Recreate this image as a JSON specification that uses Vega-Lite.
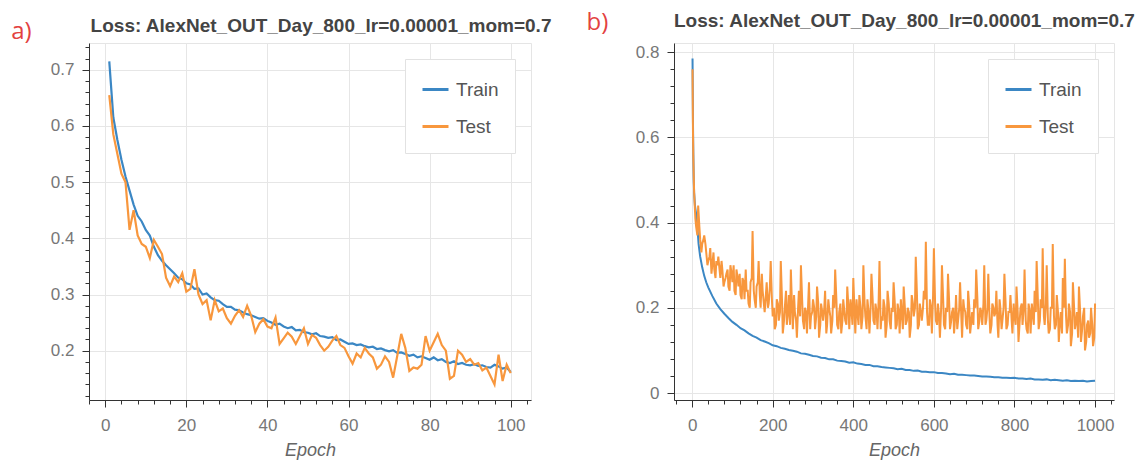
{
 "$schema": "https://vega.github.io/schema/vega-lite/v6.json",
 "padding": {"left": 10, "top": 10, "right": 5, "bottom": 5},
 "background": "white",
 "bounds": "flush",
 "spacing": 143,
 "resolve": {"scale": {"color": "independent"}, "legend": {"color": "independent"}},
 "config": {
  "font": "Liberation Sans",
  "view": {"stroke": "#e5e5e5", "strokeWidth": 1},
  "axis": {"domainColor": "#333", "tickColor": "#333", "labelColor": "#777", "labelFontSize": 17, "gridColor": "#e6e6e6", "titleColor": "#666", "labelFont": "Liberation Sans"},
  "legend": {"title": null, "orient": "top-right", "offset": 16, "fillColor": "white", "strokeColor": "#e2e2e2", "padding": 16, "symbolType": "stroke", "symbolSize": 676, "symbolStrokeWidth": 3, "labelFontSize": 19, "labelColor": "#555", "rowPadding": 12, "labelOffset": 6}
 },
 "datasets": {
  "a": [
   {"series":"Train","epoch":1,"loss":0.715},{"series":"Train","epoch":2,"loss":0.615},{"series":"Train","epoch":3,"loss":0.575},{"series":"Train","epoch":4,"loss":0.54},{"series":"Train","epoch":5,"loss":0.51},{"series":"Train","epoch":6,"loss":0.485},{"series":"Train","epoch":7,"loss":0.46},{"series":"Train","epoch":8,"loss":0.44},{"series":"Train","epoch":9,"loss":0.43},{"series":"Train","epoch":10,"loss":0.415},
   {"series":"Train","epoch":11,"loss":0.405},{"series":"Train","epoch":12,"loss":0.385},{"series":"Train","epoch":13,"loss":0.37},{"series":"Train","epoch":14,"loss":0.36},{"series":"Train","epoch":15,"loss":0.352},{"series":"Train","epoch":16,"loss":0.345},{"series":"Train","epoch":17,"loss":0.338},{"series":"Train","epoch":18,"loss":0.33},{"series":"Train","epoch":19,"loss":0.327},{"series":"Train","epoch":20,"loss":0.32},
   {"series":"Train","epoch":21,"loss":0.318},{"series":"Train","epoch":22,"loss":0.31},{"series":"Train","epoch":23,"loss":0.311},{"series":"Train","epoch":24,"loss":0.3},{"series":"Train","epoch":25,"loss":0.302},{"series":"Train","epoch":26,"loss":0.295},{"series":"Train","epoch":27,"loss":0.29},{"series":"Train","epoch":28,"loss":0.289},{"series":"Train","epoch":29,"loss":0.283},{"series":"Train","epoch":30,"loss":0.278},
   {"series":"Train","epoch":31,"loss":0.278},{"series":"Train","epoch":32,"loss":0.273},{"series":"Train","epoch":33,"loss":0.272},{"series":"Train","epoch":34,"loss":0.268},{"series":"Train","epoch":35,"loss":0.265},{"series":"Train","epoch":36,"loss":0.263},{"series":"Train","epoch":37,"loss":0.26},{"series":"Train","epoch":38,"loss":0.257},{"series":"Train","epoch":39,"loss":0.258},{"series":"Train","epoch":40,"loss":0.253},
   {"series":"Train","epoch":41,"loss":0.25},{"series":"Train","epoch":42,"loss":0.246},{"series":"Train","epoch":43,"loss":0.248},{"series":"Train","epoch":44,"loss":0.243},{"series":"Train","epoch":45,"loss":0.24},{"series":"Train","epoch":46,"loss":0.242},{"series":"Train","epoch":47,"loss":0.236},{"series":"Train","epoch":48,"loss":0.237},{"series":"Train","epoch":49,"loss":0.233},{"series":"Train","epoch":50,"loss":0.232},
   {"series":"Train","epoch":51,"loss":0.229},{"series":"Train","epoch":52,"loss":0.231},{"series":"Train","epoch":53,"loss":0.226},{"series":"Train","epoch":54,"loss":0.225},{"series":"Train","epoch":55,"loss":0.223},{"series":"Train","epoch":56,"loss":0.224},{"series":"Train","epoch":57,"loss":0.219},{"series":"Train","epoch":58,"loss":0.22},{"series":"Train","epoch":59,"loss":0.216},{"series":"Train","epoch":60,"loss":0.212},
   {"series":"Train","epoch":61,"loss":0.213},{"series":"Train","epoch":62,"loss":0.21},{"series":"Train","epoch":63,"loss":0.211},{"series":"Train","epoch":64,"loss":0.208},{"series":"Train","epoch":65,"loss":0.206},{"series":"Train","epoch":66,"loss":0.207},{"series":"Train","epoch":67,"loss":0.203},{"series":"Train","epoch":68,"loss":0.204},{"series":"Train","epoch":69,"loss":0.201},{"series":"Train","epoch":70,"loss":0.199},
   {"series":"Train","epoch":71,"loss":0.201},{"series":"Train","epoch":72,"loss":0.196},{"series":"Train","epoch":73,"loss":0.197},{"series":"Train","epoch":74,"loss":0.194},{"series":"Train","epoch":75,"loss":0.191},{"series":"Train","epoch":76,"loss":0.193},{"series":"Train","epoch":77,"loss":0.188},{"series":"Train","epoch":78,"loss":0.19},{"series":"Train","epoch":79,"loss":0.187},{"series":"Train","epoch":80,"loss":0.184},
   {"series":"Train","epoch":81,"loss":0.188},{"series":"Train","epoch":82,"loss":0.183},{"series":"Train","epoch":83,"loss":0.185},{"series":"Train","epoch":84,"loss":0.18},{"series":"Train","epoch":85,"loss":0.178},{"series":"Train","epoch":86,"loss":0.181},{"series":"Train","epoch":87,"loss":0.176},{"series":"Train","epoch":88,"loss":0.178},{"series":"Train","epoch":89,"loss":0.175},{"series":"Train","epoch":90,"loss":0.174},
   {"series":"Train","epoch":91,"loss":0.176},{"series":"Train","epoch":92,"loss":0.173},{"series":"Train","epoch":93,"loss":0.174},{"series":"Train","epoch":94,"loss":0.171},{"series":"Train","epoch":95,"loss":0.17},{"series":"Train","epoch":96,"loss":0.175},{"series":"Train","epoch":97,"loss":0.172},{"series":"Train","epoch":98,"loss":0.168},{"series":"Train","epoch":99,"loss":0.17},{"series":"Train","epoch":100,"loss":0.162},
   {"series":"Test","epoch":1,"loss":0.655},{"series":"Test","epoch":2,"loss":0.585},{"series":"Test","epoch":3,"loss":0.55},{"series":"Test","epoch":4,"loss":0.515},{"series":"Test","epoch":5,"loss":0.5},{"series":"Test","epoch":6,"loss":0.415},{"series":"Test","epoch":7,"loss":0.45},{"series":"Test","epoch":8,"loss":0.405},{"series":"Test","epoch":9,"loss":0.39},{"series":"Test","epoch":10,"loss":0.385},
   {"series":"Test","epoch":11,"loss":0.365},{"series":"Test","epoch":12,"loss":0.397},{"series":"Test","epoch":13,"loss":0.385},{"series":"Test","epoch":14,"loss":0.372},{"series":"Test","epoch":15,"loss":0.33},{"series":"Test","epoch":16,"loss":0.315},{"series":"Test","epoch":17,"loss":0.332},{"series":"Test","epoch":18,"loss":0.322},{"series":"Test","epoch":19,"loss":0.338},{"series":"Test","epoch":20,"loss":0.305},
   {"series":"Test","epoch":21,"loss":0.31},{"series":"Test","epoch":22,"loss":0.345},{"series":"Test","epoch":23,"loss":0.3},{"series":"Test","epoch":24,"loss":0.283},{"series":"Test","epoch":25,"loss":0.29},{"series":"Test","epoch":26,"loss":0.254},{"series":"Test","epoch":27,"loss":0.29},{"series":"Test","epoch":28,"loss":0.27},{"series":"Test","epoch":29,"loss":0.275},{"series":"Test","epoch":30,"loss":0.258},
   {"series":"Test","epoch":31,"loss":0.248},{"series":"Test","epoch":32,"loss":0.262},{"series":"Test","epoch":33,"loss":0.272},{"series":"Test","epoch":34,"loss":0.26},{"series":"Test","epoch":35,"loss":0.28},{"series":"Test","epoch":36,"loss":0.262},{"series":"Test","epoch":37,"loss":0.233},{"series":"Test","epoch":38,"loss":0.248},{"series":"Test","epoch":39,"loss":0.256},{"series":"Test","epoch":40,"loss":0.243},
   {"series":"Test","epoch":41,"loss":0.24},{"series":"Test","epoch":42,"loss":0.259},{"series":"Test","epoch":43,"loss":0.212},{"series":"Test","epoch":44,"loss":0.222},{"series":"Test","epoch":45,"loss":0.232},{"series":"Test","epoch":46,"loss":0.225},{"series":"Test","epoch":47,"loss":0.212},{"series":"Test","epoch":48,"loss":0.226},{"series":"Test","epoch":49,"loss":0.24},{"series":"Test","epoch":50,"loss":0.212},
   {"series":"Test","epoch":51,"loss":0.228},{"series":"Test","epoch":52,"loss":0.223},{"series":"Test","epoch":53,"loss":0.21},{"series":"Test","epoch":54,"loss":0.2},{"series":"Test","epoch":55,"loss":0.207},{"series":"Test","epoch":56,"loss":0.218},{"series":"Test","epoch":57,"loss":0.226},{"series":"Test","epoch":58,"loss":0.21},{"series":"Test","epoch":59,"loss":0.205},{"series":"Test","epoch":60,"loss":0.19},
   {"series":"Test","epoch":61,"loss":0.177},{"series":"Test","epoch":62,"loss":0.195},{"series":"Test","epoch":63,"loss":0.188},{"series":"Test","epoch":64,"loss":0.205},{"series":"Test","epoch":65,"loss":0.195},{"series":"Test","epoch":66,"loss":0.188},{"series":"Test","epoch":67,"loss":0.168},{"series":"Test","epoch":68,"loss":0.175},{"series":"Test","epoch":69,"loss":0.19},{"series":"Test","epoch":70,"loss":0.18},
   {"series":"Test","epoch":71,"loss":0.152},{"series":"Test","epoch":72,"loss":0.19},{"series":"Test","epoch":73,"loss":0.23},{"series":"Test","epoch":74,"loss":0.205},{"series":"Test","epoch":75,"loss":0.164},{"series":"Test","epoch":76,"loss":0.17},{"series":"Test","epoch":77,"loss":0.168},{"series":"Test","epoch":78,"loss":0.175},{"series":"Test","epoch":79,"loss":0.226},{"series":"Test","epoch":80,"loss":0.2},
   {"series":"Test","epoch":81,"loss":0.215},{"series":"Test","epoch":82,"loss":0.23},{"series":"Test","epoch":83,"loss":0.21},{"series":"Test","epoch":84,"loss":0.2},{"series":"Test","epoch":85,"loss":0.15},{"series":"Test","epoch":86,"loss":0.155},{"series":"Test","epoch":87,"loss":0.2},{"series":"Test","epoch":88,"loss":0.193},{"series":"Test","epoch":89,"loss":0.18},{"series":"Test","epoch":90,"loss":0.185},
   {"series":"Test","epoch":91,"loss":0.175},{"series":"Test","epoch":92,"loss":0.178},{"series":"Test","epoch":93,"loss":0.165},{"series":"Test","epoch":94,"loss":0.17},{"series":"Test","epoch":95,"loss":0.155},{"series":"Test","epoch":96,"loss":0.14},{"series":"Test","epoch":97,"loss":0.193},{"series":"Test","epoch":98,"loss":0.146},{"series":"Test","epoch":99,"loss":0.175},{"series":"Test","epoch":100,"loss":0.16}
  ],
  "b": [
   {"series":"Train","epoch":1,"loss":0.785},{"series":"Train","epoch":2,"loss":0.64},{"series":"Train","epoch":3,"loss":0.56},{"series":"Train","epoch":4,"loss":0.5},{"series":"Train","epoch":5,"loss":0.47},{"series":"Train","epoch":7,"loss":0.44},{"series":"Train","epoch":10,"loss":0.42},{"series":"Train","epoch":13,"loss":0.39},{"series":"Train","epoch":16,"loss":0.35},{"series":"Train","epoch":20,"loss":0.32},
   {"series":"Train","epoch":25,"loss":0.295},{"series":"Train","epoch":30,"loss":0.275},{"series":"Train","epoch":35,"loss":0.26},{"series":"Train","epoch":40,"loss":0.248},{"series":"Train","epoch":45,"loss":0.238},{"series":"Train","epoch":50,"loss":0.228},{"series":"Train","epoch":60,"loss":0.21},{"series":"Train","epoch":70,"loss":0.197},{"series":"Train","epoch":80,"loss":0.186},{"series":"Train","epoch":90,"loss":0.176},
   {"series":"Train","epoch":100,"loss":0.167},{"series":"Train","epoch":110,"loss":0.16},{"series":"Train","epoch":120,"loss":0.152},{"series":"Train","epoch":130,"loss":0.147},{"series":"Train","epoch":140,"loss":0.14},{"series":"Train","epoch":150,"loss":0.134},{"series":"Train","epoch":160,"loss":0.13},{"series":"Train","epoch":170,"loss":0.124},{"series":"Train","epoch":180,"loss":0.121},{"series":"Train","epoch":190,"loss":0.117},
   {"series":"Train","epoch":200,"loss":0.112},{"series":"Train","epoch":210,"loss":0.11},{"series":"Train","epoch":220,"loss":0.106},{"series":"Train","epoch":230,"loss":0.104},{"series":"Train","epoch":240,"loss":0.101},{"series":"Train","epoch":250,"loss":0.099},{"series":"Train","epoch":260,"loss":0.097},{"series":"Train","epoch":270,"loss":0.093},{"series":"Train","epoch":280,"loss":0.092},{"series":"Train","epoch":290,"loss":0.09},
   {"series":"Train","epoch":300,"loss":0.087},{"series":"Train","epoch":310,"loss":0.086},{"series":"Train","epoch":320,"loss":0.083},{"series":"Train","epoch":330,"loss":0.082},{"series":"Train","epoch":340,"loss":0.079},{"series":"Train","epoch":350,"loss":0.079},{"series":"Train","epoch":360,"loss":0.076},{"series":"Train","epoch":370,"loss":0.075},{"series":"Train","epoch":380,"loss":0.074},{"series":"Train","epoch":390,"loss":0.071},
   {"series":"Train","epoch":400,"loss":0.072},{"series":"Train","epoch":410,"loss":0.069},{"series":"Train","epoch":420,"loss":0.068},{"series":"Train","epoch":430,"loss":0.066},{"series":"Train","epoch":440,"loss":0.066},{"series":"Train","epoch":450,"loss":0.063},{"series":"Train","epoch":460,"loss":0.063},{"series":"Train","epoch":470,"loss":0.061},{"series":"Train","epoch":480,"loss":0.06},{"series":"Train","epoch":490,"loss":0.059},
   {"series":"Train","epoch":500,"loss":0.058},{"series":"Train","epoch":510,"loss":0.056},{"series":"Train","epoch":520,"loss":0.057},{"series":"Train","epoch":530,"loss":0.054},{"series":"Train","epoch":540,"loss":0.054},{"series":"Train","epoch":550,"loss":0.052},{"series":"Train","epoch":560,"loss":0.053},{"series":"Train","epoch":570,"loss":0.05},{"series":"Train","epoch":580,"loss":0.05},{"series":"Train","epoch":590,"loss":0.049},
   {"series":"Train","epoch":600,"loss":0.049},{"series":"Train","epoch":610,"loss":0.047},{"series":"Train","epoch":620,"loss":0.047},{"series":"Train","epoch":630,"loss":0.046},{"series":"Train","epoch":640,"loss":0.044},{"series":"Train","epoch":650,"loss":0.045},{"series":"Train","epoch":660,"loss":0.043},{"series":"Train","epoch":670,"loss":0.043},{"series":"Train","epoch":680,"loss":0.042},{"series":"Train","epoch":690,"loss":0.041},
   {"series":"Train","epoch":700,"loss":0.041},{"series":"Train","epoch":710,"loss":0.04},{"series":"Train","epoch":720,"loss":0.039},{"series":"Train","epoch":730,"loss":0.039},{"series":"Train","epoch":740,"loss":0.038},{"series":"Train","epoch":750,"loss":0.037},{"series":"Train","epoch":760,"loss":0.037},{"series":"Train","epoch":770,"loss":0.036},{"series":"Train","epoch":780,"loss":0.036},{"series":"Train","epoch":790,"loss":0.035},
   {"series":"Train","epoch":800,"loss":0.036},{"series":"Train","epoch":810,"loss":0.034},{"series":"Train","epoch":820,"loss":0.034},{"series":"Train","epoch":830,"loss":0.033},{"series":"Train","epoch":840,"loss":0.034},{"series":"Train","epoch":850,"loss":0.032},{"series":"Train","epoch":860,"loss":0.032},{"series":"Train","epoch":870,"loss":0.031},{"series":"Train","epoch":880,"loss":0.032},{"series":"Train","epoch":890,"loss":0.03},
   {"series":"Train","epoch":900,"loss":0.031},{"series":"Train","epoch":910,"loss":0.03},{"series":"Train","epoch":920,"loss":0.029},{"series":"Train","epoch":930,"loss":0.03},{"series":"Train","epoch":940,"loss":0.028},{"series":"Train","epoch":950,"loss":0.029},{"series":"Train","epoch":960,"loss":0.028},{"series":"Train","epoch":970,"loss":0.029},{"series":"Train","epoch":980,"loss":0.027},{"series":"Train","epoch":990,"loss":0.028},{"series":"Train","epoch":1000,"loss":0.029},
   {"series":"Test","epoch":1,"loss":0.76},{"series":"Test","epoch":2,"loss":0.62},{"series":"Test","epoch":3,"loss":0.55},{"series":"Test","epoch":5,"loss":0.47},{"series":"Test","epoch":8,"loss":0.41},{"series":"Test","epoch":10,"loss":0.39},{"series":"Test","epoch":13,"loss":0.37},{"series":"Test","epoch":15,"loss":0.44},{"series":"Test","epoch":18,"loss":0.39},{"series":"Test","epoch":20,"loss":0.36},
   {"series":"Test","epoch":23,"loss":0.33},{"series":"Test","epoch":25,"loss":0.35},{"series":"Test","epoch":28,"loss":0.36},{"series":"Test","epoch":30,"loss":0.37},{"series":"Test","epoch":33,"loss":0.35},{"series":"Test","epoch":35,"loss":0.33},{"series":"Test","epoch":38,"loss":0.3},{"series":"Test","epoch":40,"loss":0.31},{"series":"Test","epoch":43,"loss":0.32},{"series":"Test","epoch":45,"loss":0.34},
   {"series":"Test","epoch":48,"loss":0.28},{"series":"Test","epoch":50,"loss":0.3},{"series":"Test","epoch":53,"loss":0.33},{"series":"Test","epoch":55,"loss":0.29},{"series":"Test","epoch":58,"loss":0.27},{"series":"Test","epoch":60,"loss":0.31},{"series":"Test","epoch":63,"loss":0.3},{"series":"Test","epoch":65,"loss":0.32},{"series":"Test","epoch":68,"loss":0.29},{"series":"Test","epoch":70,"loss":0.27},
   {"series":"Test","epoch":73,"loss":0.31},{"series":"Test","epoch":75,"loss":0.29},{"series":"Test","epoch":78,"loss":0.25},{"series":"Test","epoch":80,"loss":0.26},{"series":"Test","epoch":83,"loss":0.27},{"series":"Test","epoch":85,"loss":0.28},{"series":"Test","epoch":88,"loss":0.29},{"series":"Test","epoch":90,"loss":0.25},{"series":"Test","epoch":93,"loss":0.24},{"series":"Test","epoch":95,"loss":0.3},
   {"series":"Test","epoch":98,"loss":0.28},{"series":"Test","epoch":100,"loss":0.26},{"series":"Test","epoch":103,"loss":0.3},{"series":"Test","epoch":105,"loss":0.24},{"series":"Test","epoch":108,"loss":0.23},{"series":"Test","epoch":110,"loss":0.29},{"series":"Test","epoch":113,"loss":0.27},{"series":"Test","epoch":115,"loss":0.25},{"series":"Test","epoch":118,"loss":0.28},{"series":"Test","epoch":120,"loss":0.23},
   {"series":"Test","epoch":123,"loss":0.22},{"series":"Test","epoch":125,"loss":0.27},{"series":"Test","epoch":128,"loss":0.26},{"series":"Test","epoch":130,"loss":0.22},{"series":"Test","epoch":133,"loss":0.29},{"series":"Test","epoch":135,"loss":0.24},{"series":"Test","epoch":138,"loss":0.24},{"series":"Test","epoch":140,"loss":0.21},{"series":"Test","epoch":143,"loss":0.2},{"series":"Test","epoch":145,"loss":0.26},
   {"series":"Test","epoch":148,"loss":0.27},{"series":"Test","epoch":150,"loss":0.38},{"series":"Test","epoch":153,"loss":0.24},{"series":"Test","epoch":155,"loss":0.22},{"series":"Test","epoch":158,"loss":0.2},{"series":"Test","epoch":160,"loss":0.25},{"series":"Test","epoch":163,"loss":0.26},{"series":"Test","epoch":165,"loss":0.31},{"series":"Test","epoch":168,"loss":0.23},{"series":"Test","epoch":170,"loss":0.2},
   {"series":"Test","epoch":173,"loss":0.28},{"series":"Test","epoch":175,"loss":0.24},{"series":"Test","epoch":178,"loss":0.21},{"series":"Test","epoch":180,"loss":0.19},{"series":"Test","epoch":183,"loss":0.23},{"series":"Test","epoch":185,"loss":0.26},{"series":"Test","epoch":188,"loss":0.2},{"series":"Test","epoch":190,"loss":0.21},{"series":"Test","epoch":193,"loss":0.25},{"series":"Test","epoch":195,"loss":0.31},
   {"series":"Test","epoch":198,"loss":0.22},{"series":"Test","epoch":200,"loss":0.18},{"series":"Test","epoch":203,"loss":0.2},{"series":"Test","epoch":205,"loss":0.15},{"series":"Test","epoch":208,"loss":0.16},{"series":"Test","epoch":210,"loss":0.22},{"series":"Test","epoch":213,"loss":0.21},{"series":"Test","epoch":215,"loss":0.17},{"series":"Test","epoch":218,"loss":0.19},{"series":"Test","epoch":220,"loss":0.31},
   {"series":"Test","epoch":223,"loss":0.22},{"series":"Test","epoch":225,"loss":0.14},{"series":"Test","epoch":228,"loss":0.17},{"series":"Test","epoch":230,"loss":0.2},{"series":"Test","epoch":233,"loss":0.24},{"series":"Test","epoch":235,"loss":0.16},{"series":"Test","epoch":238,"loss":0.19},{"series":"Test","epoch":240,"loss":0.23},{"series":"Test","epoch":243,"loss":0.16},{"series":"Test","epoch":245,"loss":0.29},
   {"series":"Test","epoch":248,"loss":0.2},{"series":"Test","epoch":250,"loss":0.15},{"series":"Test","epoch":253,"loss":0.23},{"series":"Test","epoch":255,"loss":0.19},{"series":"Test","epoch":258,"loss":0.17},{"series":"Test","epoch":260,"loss":0.13},{"series":"Test","epoch":263,"loss":0.2},{"series":"Test","epoch":265,"loss":0.24},{"series":"Test","epoch":268,"loss":0.18},{"series":"Test","epoch":270,"loss":0.3},
   {"series":"Test","epoch":273,"loss":0.22},{"series":"Test","epoch":275,"loss":0.17},{"series":"Test","epoch":278,"loss":0.15},{"series":"Test","epoch":280,"loss":0.2},{"series":"Test","epoch":283,"loss":0.19},{"series":"Test","epoch":285,"loss":0.14},{"series":"Test","epoch":288,"loss":0.21},{"series":"Test","epoch":290,"loss":0.26},{"series":"Test","epoch":293,"loss":0.15},{"series":"Test","epoch":295,"loss":0.18},
   {"series":"Test","epoch":298,"loss":0.19},{"series":"Test","epoch":300,"loss":0.22},{"series":"Test","epoch":303,"loss":0.2},{"series":"Test","epoch":305,"loss":0.15},{"series":"Test","epoch":308,"loss":0.18},{"series":"Test","epoch":310,"loss":0.25},{"series":"Test","epoch":313,"loss":0.21},{"series":"Test","epoch":315,"loss":0.13},{"series":"Test","epoch":318,"loss":0.16},{"series":"Test","epoch":320,"loss":0.21},
   {"series":"Test","epoch":323,"loss":0.19},{"series":"Test","epoch":325,"loss":0.17},{"series":"Test","epoch":328,"loss":0.2},{"series":"Test","epoch":330,"loss":0.24},{"series":"Test","epoch":333,"loss":0.14},{"series":"Test","epoch":335,"loss":0.16},{"series":"Test","epoch":338,"loss":0.22},{"series":"Test","epoch":340,"loss":0.2},{"series":"Test","epoch":343,"loss":0.18},{"series":"Test","epoch":345,"loss":0.14},
   {"series":"Test","epoch":348,"loss":0.17},{"series":"Test","epoch":350,"loss":0.23},{"series":"Test","epoch":353,"loss":0.2},{"series":"Test","epoch":355,"loss":0.29},{"series":"Test","epoch":358,"loss":0.22},{"series":"Test","epoch":360,"loss":0.16},{"series":"Test","epoch":363,"loss":0.15},{"series":"Test","epoch":365,"loss":0.19},{"series":"Test","epoch":368,"loss":0.21},{"series":"Test","epoch":370,"loss":0.14},
   {"series":"Test","epoch":373,"loss":0.17},{"series":"Test","epoch":375,"loss":0.22},{"series":"Test","epoch":378,"loss":0.19},{"series":"Test","epoch":380,"loss":0.17},{"series":"Test","epoch":383,"loss":0.16},{"series":"Test","epoch":385,"loss":0.25},{"series":"Test","epoch":388,"loss":0.2},{"series":"Test","epoch":390,"loss":0.15},{"series":"Test","epoch":393,"loss":0.22},{"series":"Test","epoch":395,"loss":0.2},
   {"series":"Test","epoch":398,"loss":0.16},{"series":"Test","epoch":400,"loss":0.27},{"series":"Test","epoch":403,"loss":0.19},{"series":"Test","epoch":405,"loss":0.14},{"series":"Test","epoch":408,"loss":0.22},{"series":"Test","epoch":410,"loss":0.19},{"series":"Test","epoch":413,"loss":0.16},{"series":"Test","epoch":415,"loss":0.23},{"series":"Test","epoch":418,"loss":0.2},{"series":"Test","epoch":420,"loss":0.15},
   {"series":"Test","epoch":423,"loss":0.18},{"series":"Test","epoch":425,"loss":0.3},{"series":"Test","epoch":428,"loss":0.21},{"series":"Test","epoch":430,"loss":0.18},{"series":"Test","epoch":433,"loss":0.15},{"series":"Test","epoch":435,"loss":0.22},{"series":"Test","epoch":438,"loss":0.19},{"series":"Test","epoch":440,"loss":0.14},{"series":"Test","epoch":443,"loss":0.2},{"series":"Test","epoch":445,"loss":0.28},
   {"series":"Test","epoch":448,"loss":0.22},{"series":"Test","epoch":450,"loss":0.17},{"series":"Test","epoch":453,"loss":0.16},{"series":"Test","epoch":455,"loss":0.21},{"series":"Test","epoch":458,"loss":0.19},{"series":"Test","epoch":460,"loss":0.15},{"series":"Test","epoch":463,"loss":0.22},{"series":"Test","epoch":465,"loss":0.31},{"series":"Test","epoch":468,"loss":0.15},{"series":"Test","epoch":470,"loss":0.18},
   {"series":"Test","epoch":473,"loss":0.17},{"series":"Test","epoch":475,"loss":0.22},{"series":"Test","epoch":478,"loss":0.2},{"series":"Test","epoch":480,"loss":0.13},{"series":"Test","epoch":483,"loss":0.16},{"series":"Test","epoch":485,"loss":0.24},{"series":"Test","epoch":488,"loss":0.21},{"series":"Test","epoch":490,"loss":0.17},{"series":"Test","epoch":493,"loss":0.15},{"series":"Test","epoch":495,"loss":0.2},
   {"series":"Test","epoch":498,"loss":0.19},{"series":"Test","epoch":500,"loss":0.26},{"series":"Test","epoch":503,"loss":0.21},{"series":"Test","epoch":505,"loss":0.15},{"series":"Test","epoch":508,"loss":0.16},{"series":"Test","epoch":510,"loss":0.21},{"series":"Test","epoch":513,"loss":0.19},{"series":"Test","epoch":515,"loss":0.14},{"series":"Test","epoch":518,"loss":0.22},{"series":"Test","epoch":520,"loss":0.19},
   {"series":"Test","epoch":523,"loss":0.15},{"series":"Test","epoch":525,"loss":0.25},{"series":"Test","epoch":528,"loss":0.2},{"series":"Test","epoch":530,"loss":0.16},{"series":"Test","epoch":533,"loss":0.17},{"series":"Test","epoch":535,"loss":0.2},{"series":"Test","epoch":538,"loss":0.19},{"series":"Test","epoch":540,"loss":0.13},{"series":"Test","epoch":543,"loss":0.16},{"series":"Test","epoch":545,"loss":0.23},
   {"series":"Test","epoch":548,"loss":0.21},{"series":"Test","epoch":550,"loss":0.18},{"series":"Test","epoch":553,"loss":0.2},{"series":"Test","epoch":555,"loss":0.32},{"series":"Test","epoch":558,"loss":0.23},{"series":"Test","epoch":560,"loss":0.15},{"series":"Test","epoch":563,"loss":0.16},{"series":"Test","epoch":565,"loss":0.21},{"series":"Test","epoch":568,"loss":0.19},{"series":"Test","epoch":570,"loss":0.17},
   {"series":"Test","epoch":573,"loss":0.2},{"series":"Test","epoch":575,"loss":0.24},{"series":"Test","epoch":578,"loss":0.22},{"series":"Test","epoch":580,"loss":0.355},{"series":"Test","epoch":583,"loss":0.19},{"series":"Test","epoch":585,"loss":0.16},{"series":"Test","epoch":588,"loss":0.16},{"series":"Test","epoch":590,"loss":0.22},{"series":"Test","epoch":593,"loss":0.2},{"series":"Test","epoch":595,"loss":0.14},
   {"series":"Test","epoch":598,"loss":0.23},{"series":"Test","epoch":600,"loss":0.34},{"series":"Test","epoch":603,"loss":0.21},{"series":"Test","epoch":605,"loss":0.17},{"series":"Test","epoch":608,"loss":0.16},{"series":"Test","epoch":610,"loss":0.21},{"series":"Test","epoch":613,"loss":0.18},{"series":"Test","epoch":615,"loss":0.13},{"series":"Test","epoch":618,"loss":0.2},{"series":"Test","epoch":620,"loss":0.3},
   {"series":"Test","epoch":623,"loss":0.22},{"series":"Test","epoch":625,"loss":0.16},{"series":"Test","epoch":628,"loss":0.15},{"series":"Test","epoch":630,"loss":0.2},{"series":"Test","epoch":633,"loss":0.19},{"series":"Test","epoch":635,"loss":0.28},{"series":"Test","epoch":638,"loss":0.21},{"series":"Test","epoch":640,"loss":0.15},{"series":"Test","epoch":643,"loss":0.17},{"series":"Test","epoch":645,"loss":0.19},
   {"series":"Test","epoch":648,"loss":0.2},{"series":"Test","epoch":650,"loss":0.14},{"series":"Test","epoch":653,"loss":0.18},{"series":"Test","epoch":655,"loss":0.23},{"series":"Test","epoch":658,"loss":0.15},{"series":"Test","epoch":660,"loss":0.17},{"series":"Test","epoch":663,"loss":0.2},{"series":"Test","epoch":665,"loss":0.26},{"series":"Test","epoch":668,"loss":0.18},{"series":"Test","epoch":670,"loss":0.13},
   {"series":"Test","epoch":673,"loss":0.22},{"series":"Test","epoch":675,"loss":0.2},{"series":"Test","epoch":678,"loss":0.19},{"series":"Test","epoch":680,"loss":0.16},{"series":"Test","epoch":683,"loss":0.15},{"series":"Test","epoch":685,"loss":0.24},{"series":"Test","epoch":688,"loss":0.2},{"series":"Test","epoch":690,"loss":0.14},{"series":"Test","epoch":693,"loss":0.17},{"series":"Test","epoch":695,"loss":0.19},
   {"series":"Test","epoch":698,"loss":0.16},{"series":"Test","epoch":700,"loss":0.22},{"series":"Test","epoch":703,"loss":0.2},{"series":"Test","epoch":705,"loss":0.29},{"series":"Test","epoch":708,"loss":0.22},{"series":"Test","epoch":710,"loss":0.15},{"series":"Test","epoch":713,"loss":0.17},{"series":"Test","epoch":715,"loss":0.2},{"series":"Test","epoch":718,"loss":0.19},{"series":"Test","epoch":720,"loss":0.16},
   {"series":"Test","epoch":723,"loss":0.21},{"series":"Test","epoch":725,"loss":0.3},{"series":"Test","epoch":728,"loss":0.16},{"series":"Test","epoch":730,"loss":0.17},{"series":"Test","epoch":733,"loss":0.2},{"series":"Test","epoch":735,"loss":0.28},{"series":"Test","epoch":738,"loss":0.18},{"series":"Test","epoch":740,"loss":0.14},{"series":"Test","epoch":743,"loss":0.16},{"series":"Test","epoch":745,"loss":0.21},
   {"series":"Test","epoch":748,"loss":0.2},{"series":"Test","epoch":750,"loss":0.18},{"series":"Test","epoch":753,"loss":0.19},{"series":"Test","epoch":755,"loss":0.24},{"series":"Test","epoch":758,"loss":0.16},{"series":"Test","epoch":760,"loss":0.13},{"series":"Test","epoch":763,"loss":0.22},{"series":"Test","epoch":765,"loss":0.2},{"series":"Test","epoch":768,"loss":0.15},{"series":"Test","epoch":770,"loss":0.17},
   {"series":"Test","epoch":773,"loss":0.2},{"series":"Test","epoch":775,"loss":0.28},{"series":"Test","epoch":778,"loss":0.21},{"series":"Test","epoch":780,"loss":0.15},{"series":"Test","epoch":783,"loss":0.16},{"series":"Test","epoch":785,"loss":0.19},{"series":"Test","epoch":788,"loss":0.19},{"series":"Test","epoch":790,"loss":0.23},{"series":"Test","epoch":793,"loss":0.17},{"series":"Test","epoch":795,"loss":0.14},
   {"series":"Test","epoch":798,"loss":0.21},{"series":"Test","epoch":800,"loss":0.18},{"series":"Test","epoch":803,"loss":0.16},{"series":"Test","epoch":805,"loss":0.25},{"series":"Test","epoch":808,"loss":0.19},{"series":"Test","epoch":810,"loss":0.12},{"series":"Test","epoch":813,"loss":0.17},{"series":"Test","epoch":815,"loss":0.2},{"series":"Test","epoch":818,"loss":0.21},{"series":"Test","epoch":820,"loss":0.16},
   {"series":"Test","epoch":823,"loss":0.2},{"series":"Test","epoch":825,"loss":0.29},{"series":"Test","epoch":828,"loss":0.17},{"series":"Test","epoch":830,"loss":0.15},{"series":"Test","epoch":833,"loss":0.14},{"series":"Test","epoch":835,"loss":0.21},{"series":"Test","epoch":838,"loss":0.19},{"series":"Test","epoch":840,"loss":0.14},{"series":"Test","epoch":843,"loss":0.21},{"series":"Test","epoch":845,"loss":0.19},
   {"series":"Test","epoch":848,"loss":0.16},{"series":"Test","epoch":850,"loss":0.24},{"series":"Test","epoch":853,"loss":0.19},{"series":"Test","epoch":855,"loss":0.31},{"series":"Test","epoch":858,"loss":0.22},{"series":"Test","epoch":860,"loss":0.15},{"series":"Test","epoch":863,"loss":0.17},{"series":"Test","epoch":865,"loss":0.22},{"series":"Test","epoch":868,"loss":0.2},{"series":"Test","epoch":870,"loss":0.34},
   {"series":"Test","epoch":873,"loss":0.18},{"series":"Test","epoch":875,"loss":0.16},{"series":"Test","epoch":878,"loss":0.21},{"series":"Test","epoch":880,"loss":0.3},{"series":"Test","epoch":883,"loss":0.17},{"series":"Test","epoch":885,"loss":0.14},{"series":"Test","epoch":888,"loss":0.15},{"series":"Test","epoch":890,"loss":0.2},{"series":"Test","epoch":893,"loss":0.2},{"series":"Test","epoch":895,"loss":0.35},
   {"series":"Test","epoch":898,"loss":0.18},{"series":"Test","epoch":900,"loss":0.15},{"series":"Test","epoch":903,"loss":0.16},{"series":"Test","epoch":905,"loss":0.23},{"series":"Test","epoch":908,"loss":0.19},{"series":"Test","epoch":910,"loss":0.12},{"series":"Test","epoch":913,"loss":0.17},{"series":"Test","epoch":915,"loss":0.19},{"series":"Test","epoch":918,"loss":0.14},{"series":"Test","epoch":920,"loss":0.27},
   {"series":"Test","epoch":923,"loss":0.2},{"series":"Test","epoch":925,"loss":0.315},{"series":"Test","epoch":928,"loss":0.18},{"series":"Test","epoch":930,"loss":0.14},{"series":"Test","epoch":933,"loss":0.16},{"series":"Test","epoch":935,"loss":0.21},{"series":"Test","epoch":938,"loss":0.19},{"series":"Test","epoch":940,"loss":0.11},{"series":"Test","epoch":943,"loss":0.14},{"series":"Test","epoch":945,"loss":0.26},
   {"series":"Test","epoch":948,"loss":0.2},{"series":"Test","epoch":950,"loss":0.15},{"series":"Test","epoch":953,"loss":0.17},{"series":"Test","epoch":955,"loss":0.19},{"series":"Test","epoch":958,"loss":0.13},{"series":"Test","epoch":960,"loss":0.25},{"series":"Test","epoch":963,"loss":0.19},{"series":"Test","epoch":965,"loss":0.12},{"series":"Test","epoch":968,"loss":0.15},{"series":"Test","epoch":970,"loss":0.18},
   {"series":"Test","epoch":973,"loss":0.2},{"series":"Test","epoch":975,"loss":0.1},{"series":"Test","epoch":978,"loss":0.12},{"series":"Test","epoch":980,"loss":0.16},{"series":"Test","epoch":983,"loss":0.17},{"series":"Test","epoch":985,"loss":0.13},{"series":"Test","epoch":988,"loss":0.14},{"series":"Test","epoch":990,"loss":0.2},{"series":"Test","epoch":993,"loss":0.16},{"series":"Test","epoch":995,"loss":0.11},
   {"series":"Test","epoch":998,"loss":0.13},{"series":"Test","epoch":1000,"loss":0.21}
  ]
 },
 "hconcat": [
  {
   "width": 442, "height": 357,
   "resolve": {"axis": {"x": "independent", "y": "independent"}},
   "layer": [
    {
     "data": {"name": "a"},
     "mark": {"type": "line", "strokeWidth": 2.2},
     "encoding": {
      "x": {"field": "epoch", "type": "quantitative", "scale": {"domain": [-4, 105], "nice": false, "zero": false},
            "axis": {"orient": "bottom", "values": [0,20,40,60,80,100], "title": "Epoch", "titleFontStyle": "italic", "titleFontWeight": "normal", "titleFontSize": 18, "tickSize": 7, "labelPadding": 10, "titlePadding": 8, "grid": true, "format": "d"}},
      "y": {"field": "loss", "type": "quantitative", "scale": {"domain": [0.1122, 0.7477], "nice": false, "zero": false},
            "axis": {"orient": "left", "values": [0.2,0.3,0.4,0.5,0.6,0.7], "format": ".1f", "title": null, "tickSize": 7, "labelPadding": 8, "grid": true}},
      "color": {"field": "series", "type": "nominal", "scale": {"domain": ["Train","Test"], "range": ["#3b87c4", "#f8973d"]}}
     }
    },
    {
     "data": {"values": [{"label": "a)"}]},
     "mark": {"type": "text", "align": "left", "baseline": "top", "fontSize": 24, "color": "#e3423f", "font": "Open Sans"},
     "encoding": {
      "text": {"field": "label"},
      "x": {"datum": -23.2, "type": "quantitative",
            "axis": {"orient": "bottom", "values": [-4,0,4,8,12,16,20,24,28,32,36,40,44,48,52,56,60,64,68,72,76,80,84,88,92,96,100,104], "labels": false, "grid": false, "domain": false, "tickSize": 4, "title": null}},
      "y": {"datum": 0.7878, "type": "quantitative",
            "axis": {"orient": "left", "values": [0.12,0.14,0.16,0.18,0.2,0.22,0.24,0.26,0.28,0.3,0.32,0.34,0.36,0.38,0.4,0.42,0.44,0.46,0.48,0.5,0.52,0.54,0.56,0.58,0.6,0.62,0.64,0.66,0.68,0.7,0.72,0.74], "labels": false, "grid": false, "domain": false, "tickSize": 4, "title": null}}
     }
    },
    {
     "data": {"values": [{"label": "Loss: AlexNet_OUT_Day_800_lr=0.00001_mom=0.7"}]},
     "mark": {"type": "text", "align": "left", "baseline": "alphabetic", "fontSize": 19, "fontWeight": "bold", "color": "#444"},
     "encoding": {
      "text": {"field": "label"},
      "x": {"datum": -3.6, "type": "quantitative", "axis": null},
      "y": {"datum": 0.7664, "type": "quantitative", "axis": null}
     }
    }
   ]
  },
  {
   "width": 440, "height": 357,
   "resolve": {"axis": {"x": "independent", "y": "independent"}},
   "layer": [
    {
     "data": {"name": "b"},
     "mark": {"type": "line", "strokeWidth": 2},
     "encoding": {
      "x": {"field": "epoch", "type": "quantitative", "scale": {"domain": [-45, 1047], "nice": false, "zero": false},
            "axis": {"orient": "bottom", "values": [0,200,400,600,800,1000], "title": "Epoch", "titleFontStyle": "italic", "titleFontWeight": "normal", "titleFontSize": 18, "tickSize": 7, "labelPadding": 10, "titlePadding": 8, "grid": true, "format": "d"}},
      "y": {"field": "loss", "type": "quantitative", "scale": {"domain": [-0.0164, 0.8216], "nice": false, "zero": false},
            "axis": {"orient": "left", "values": [0,0.2,0.4,0.6,0.8], "labelExpr": "datum.value == 0 ? '0' : format(datum.value, '.1f')", "title": null, "tickSize": 7, "labelPadding": 8, "grid": true}},
      "color": {"field": "series", "type": "nominal", "scale": {"domain": ["Train","Test"], "range": ["#3b87c4", "#f8973d"]}}
     }
    },
    {
     "data": {"values": [{"label": "b)"}]},
     "mark": {"type": "text", "align": "left", "baseline": "top", "fontSize": 24, "color": "#e3423f", "font": "Open Sans"},
     "encoding": {
      "text": {"field": "label"},
      "x": {"datum": -262, "type": "quantitative",
            "axis": {"orient": "bottom", "values": [-40,0,40,80,120,160,200,240,280,320,360,400,440,480,520,560,600,640,680,720,760,800,840,880,920,960,1000,1040], "labels": false, "grid": false, "domain": false, "tickSize": 4, "title": null}},
      "y": {"datum": 0.8956, "type": "quantitative",
            "axis": {"orient": "left", "values": [0,0.04,0.08,0.12,0.16,0.2,0.24,0.28,0.32,0.36,0.4,0.44,0.48,0.52,0.56,0.6,0.64,0.68,0.72,0.76,0.8], "labels": false, "grid": false, "domain": false, "tickSize": 4, "title": null}}
     }
    },
    {
     "data": {"values": [{"label": "Loss: AlexNet_OUT_Day_800_lr=0.00001_mom=0.7"}]},
     "mark": {"type": "text", "align": "left", "baseline": "alphabetic", "fontSize": 19, "fontWeight": "bold", "color": "#444"},
     "encoding": {
      "text": {"field": "label"},
      "x": {"datum": -45, "type": "quantitative", "axis": null},
      "y": {"datum": 0.858, "type": "quantitative", "axis": null}
     }
    }
   ]
  }
 ]
}
